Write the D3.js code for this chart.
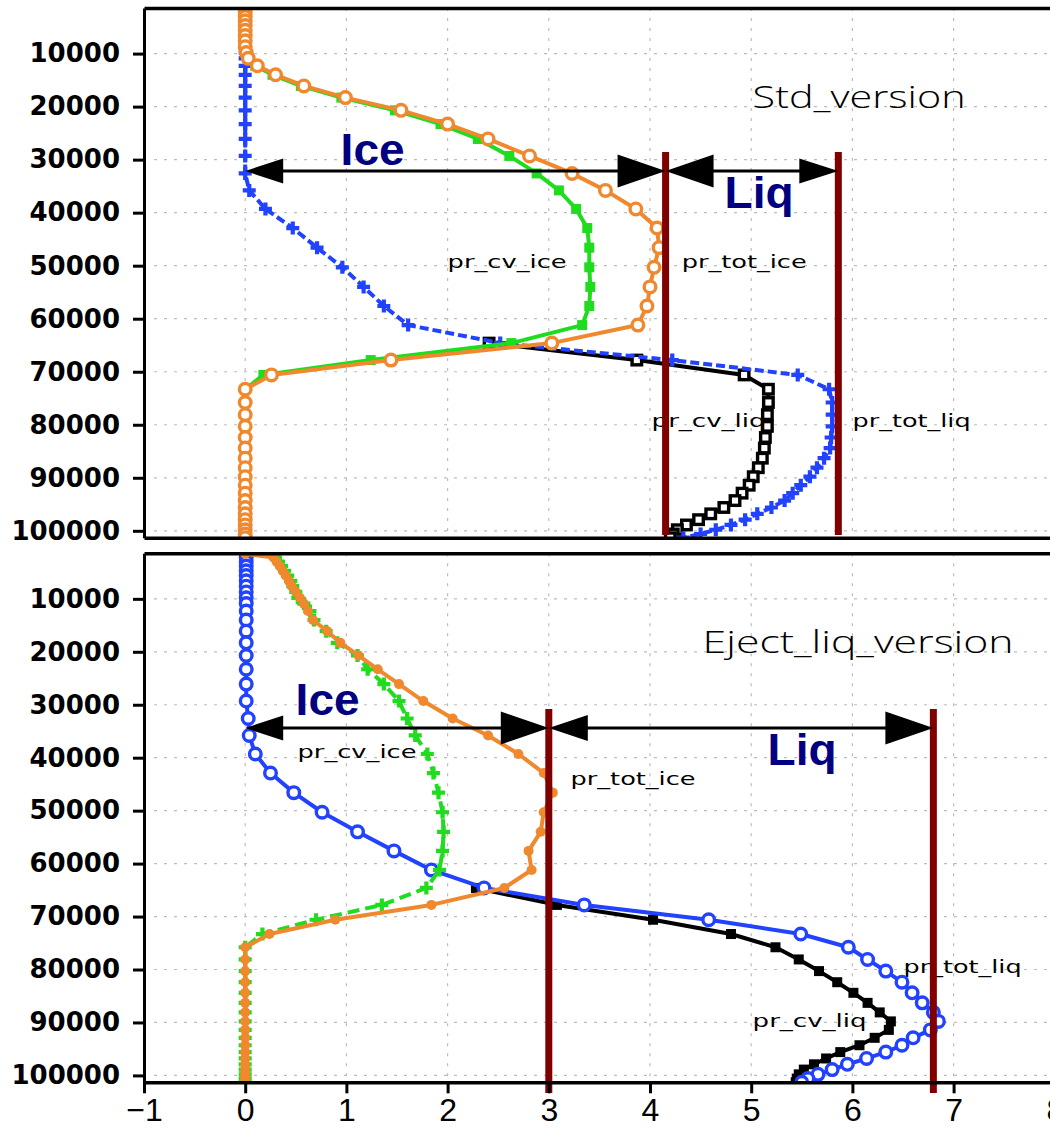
<!DOCTYPE html>
<html><head><meta charset="utf-8">
<script src="https://cdn.jsdelivr.net/npm/d3@7"></script>
<style>body{margin:0;background:#fff}svg{display:block}</style>
</head><body>
<svg id="chart" width="1050" height="1128"></svg>
<script>
// ---------- DATA ----------
const X_TICKS = [-1, 0, 1, 2, 3, 4, 5, 6, 7, 8];
const X_GRID = [0, 1, 2, 3, 4, 5, 6, 7];
const P_TICKS = [10000, 20000, 30000, 40000, 50000, 60000, 70000, 80000, 90000, 100000];
const P_DOMAIN = [1400, 101300];

// model pressure levels (Pa)
const levels = [1500, 2200, 3000, 3800, 4700, 5600, 6600, 7600, 8700, 9800,
  10900, 12300, 14000, 16100, 18300, 20700, 23300, 26100, 29300, 32600,
  35800, 39300, 42900, 46600, 50300, 54000, 57600, 61200, 64600, 67800,
  70600, 73300, 75800, 78100, 80300, 82400, 84400, 86300, 88100, 89800,
  91400, 92900, 94300, 95600, 96800, 97900, 98900, 99800, 100600, 101300];

// Std_version
const stdTotIce = [0, 0, 0, 0, 0, 0, 0, 0, 0, 0.01,
  0.03, 0.12, 0.30, 0.58, 0.99, 1.54, 2.00, 2.40, 2.81, 3.23,
  3.56, 3.86, 4.07, 4.09, 4.04, 4.00, 3.97, 3.88, 3.03, 1.44,
  0.26, 0, 0, 0, 0, 0, 0, 0, 0, 0,
  0, 0, 0, 0, 0, 0, 0, 0, 0, 0];
const stdCvIce = [0, 0, 0, 0, 0, 0, 0, 0, 0, 0,
  0.02, 0.10, 0.27, 0.55, 0.95, 1.48, 1.93, 2.30, 2.61, 2.88,
  3.10, 3.27, 3.38, 3.40, 3.40, 3.41, 3.40, 3.33, 2.63, 1.24,
  0.18, 0, 0, 0, 0, 0, 0, 0, 0, 0,
  0, 0, 0, 0, 0, 0, 0, 0, 0, 0];
const stdTotLiq = [0, 0, 0, 0, 0, 0, 0, 0, 0, 0,
  0, 0, 0, 0, 0, 0, 0, 0, 0, 0,
  0.04, 0.20, 0.47, 0.71, 0.96, 1.17, 1.37, 1.61, 2.52, 4.22,
  5.46, 5.77, 5.80, 5.80, 5.80, 5.79, 5.78, 5.72, 5.65, 5.58,
  5.49, 5.41, 5.33, 5.20, 5.06, 4.94, 4.80, 4.65, 4.50, 4.33];
const stdCvLiq = [null, null, null, null, null, null, null, null, null, null,
  null, null, null, null, null, null, null, null, null, null,
  null, null, null, null, null, null, null, null, 2.41, 3.87,
  4.93, 5.17, 5.17, 5.16, 5.16, 5.14, 5.13, 5.11, 5.07, 5.02,
  4.98, 4.91, 4.84, 4.73, 4.60, 4.48, 4.36, 4.27, 4.23, 4.20];

// Eject_liq_version
const ejTotIce = [0, 0.28, 0.31, 0.34, 0.37, 0.40, 0.43, 0.46, 0.50, 0.54,
  0.58, 0.62, 0.67, 0.81, 0.94, 1.12, 1.31, 1.52, 1.76, 2.05,
  2.40, 2.70, 2.95, 3.04, 2.95, 2.92, 2.80, 2.83, 2.56, 1.84,
  0.89, 0.24, 0, 0, 0, 0, 0, 0, 0, 0,
  0, 0, 0, 0, 0, 0, 0, 0, 0, 0];
const ejCvIce = [0.28, 0.30, 0.33, 0.36, 0.39, 0.42, 0.45, 0.47, 0.50, 0.52,
  0.58, 0.64, 0.68, 0.80, 0.91, 1.11, 1.21, 1.37, 1.52, 1.60,
  1.68, 1.80, 1.86, 1.91, 1.95, 1.96, 1.95, 1.92, 1.79, 1.35,
  0.70, 0.17, 0, 0, 0, 0, 0, 0, 0, 0,
  0, 0, 0, 0, 0, 0, 0, 0, 0, 0];
const ejTotLiq = [0.01, 0.01, 0.01, 0.01, 0.01, 0.01, 0.01, 0.01, 0.01, 0.01,
  0.01, 0.01, 0.01, 0.01, 0.01, 0.01, 0.01, 0.01, 0.01, 0.03,
  0.04, 0.10, 0.25, 0.48, 0.76, 1.11, 1.47, 1.84, 2.36, 3.35,
  4.58, 5.49, 5.96, 6.15, 6.33, 6.49, 6.59, 6.69, 6.80, 6.85,
  6.77, 6.60, 6.49, 6.33, 6.14, 5.95, 5.80, 5.66, 5.56, 5.50];
const ejCvLiq = [null, null, null, null, null, null, null, null, null, null,
  null, null, null, null, null, null, null, null, null, null,
  null, null, null, null, null, null, null, null, 2.28, 3.08,
  4.03, 4.80, 5.24, 5.47, 5.67, 5.85, 6.01, 6.15, 6.27, 6.38,
  6.36, 6.22, 6.07, 5.88, 5.74, 5.62, 5.52, 5.47, 5.45, 5.44];

// annotations (value, pressure)
const stdBounds = [4.154, 5.861];
const stdBoundP = [28560, 100800];
const ejBounds = [3.0, 6.80];
const ejBoundP = [30800, 103320];
const stdArrowP = 32140;
const ejArrowP = 34390;

const stdTexts = ["Std_version", "pr_cv_ice", "pr_tot_ice", "pr_cv_liq", "pr_tot_liq"];
const stdTextV = [5.014, 2.0, 4.313, 4.016, 6.002];
const stdTextP = [20260, 50440, 50440, 80430, 80430];
const ejTexts = ["Eject_liq_version", "pr_cv_ice", "pr_tot_ice", "pr_tot_liq", "pr_cv_liq"];
const ejTextV = [4.520, 0.517, 3.215, 6.506, 5.014];
const ejTextP = [20230, 40060, 45160, 80660, 90860];

const phaseNames = ["Ice", "Liq"];
const stdPhaseV = [0.943, 4.737];
const stdPhaseP = [31010, 39120];
const ejPhaseV = [0.498, 5.162];
const ejPhaseP = [31940, 41380];

// ---------- STYLE ----------
const C = {orange: "#f0882e", green: "#1fdc1f", blue: "#2142ff", black: "#000", maroon: "#800000", navy: "#000080", grid: "#bdbdbd"};
const textWidth = {"Std_version": 213, "Eject_liq_version": 311, "pr_cv_ice": 119, "pr_tot_ice": 125,
  "pr_cv_liq": 114, "pr_tot_liq": 118, "Ice": 64, "Liq": 69};
const HEAD_S = [38, 25], HEAD_B = [48, 33];

const svg = d3.select("#chart");
const x = d3.scaleLinear().domain([X_TICKS[0], X_TICKS[X_TICKS.length - 1]]).range([144, 1054.8]);

const panels = [
  {id: "std", range: [8, 537.7], series: [
      {vals: stdCvLiq, color: C.black, mk: "osquare"},
      {vals: stdTotLiq, color: C.blue, mk: "plus", dash: "9,4"},
      {vals: stdCvIce, color: C.green, mk: "square"},
      {vals: stdTotIce, color: C.orange, mk: "ocircle"}],
    bounds: stdBounds, boundP: stdBoundP, arrowP: stdArrowP,
    heads: [[HEAD_S, HEAD_B], [HEAD_B, [39, 25]]],
    texts: stdTexts, textV: stdTextV, textP: stdTextP,
    phaseV: stdPhaseV, phaseP: stdPhaseP, xLabels: false},
  {id: "ej", range: [553.3, 1082.3], series: [
      {vals: ejCvLiq, color: C.black, mk: "square"},
      {vals: ejTotLiq, color: C.blue, mk: "ocircle"},
      {vals: ejCvIce, color: C.green, mk: "plus", dash: "12,6"},
      {vals: ejTotIce, color: C.orange, mk: "dot"}],
    bounds: ejBounds, boundP: ejBoundP, arrowP: ejArrowP,
    heads: [[HEAD_S, HEAD_B], [[39, 26], HEAD_B]],
    texts: ejTexts, textV: ejTextV, textP: ejTextP,
    phaseV: ejPhaseV, phaseP: ejPhaseP, xLabels: true}
];

const defs = svg.append("defs");

panels.forEach((P, pi) => {
  const y = d3.scaleLinear().domain(P_DOMAIN).range(P.range);
  const g = svg.append("g");
  const clipId = "clip" + pi;
  defs.append("clipPath").attr("id", clipId).append("rect")
    .attr("x", x.range()[0]).attr("y", P.range[0])
    .attr("width", x.range()[1] - x.range()[0]).attr("height", P.range[1] - P.range[0] + 1);

  // grid
  g.append("g").selectAll("line").data(X_GRID).join("line")
    .attr("x1", d => x(d)).attr("x2", d => x(d)).attr("y1", P.range[0]).attr("y2", P.range[1])
    .attr("stroke", C.grid).attr("stroke-width", 1.2).attr("stroke-dasharray", "3,7");
  g.append("g").selectAll("line").data(P_TICKS).join("line")
    .attr("x1", x.range()[0] + 10).attr("x2", x.range()[1]).attr("y1", d => y(d)).attr("y2", d => y(d))
    .attr("stroke", C.grid).attr("stroke-width", 1.2).attr("stroke-dasharray", "3,7");

  // small labels
  g.append("g").selectAll("text").data(P.texts).join("text")
    .attr("x", (d, i) => x(P.textV[i])).attr("y", (d, i) => y(P.textP[i]))
    .attr("font-family", (d, i) => i === 0 ? "Open Sans, DejaVu Sans, sans-serif" : "DejaVu Sans, sans-serif")
    .attr("font-weight", (d, i) => i === 0 ? 300 : 400)
    .attr("font-size", (d, i) => i === 0 ? 31 : 18)
    .attr("textLength", d => textWidth[d]).attr("lengthAdjust", "spacingAndGlyphs")
    .attr("fill", "#000").text(d => d);

  // series
  const sg = g.append("g").attr("clip-path", `url(#${clipId})`);
  P.series.forEach(s => {
    const pts = levels.map((p, i) => ({p: p, v: s.vals[i]}));
    const line = d3.line().defined(d => d.v != null).x(d => x(d.v)).y(d => y(d.p));
    sg.append("path").attr("d", line(pts)).attr("fill", "none")
      .attr("stroke", s.color).attr("stroke-width", 4).attr("stroke-linejoin", "round")
      .attr("stroke-dasharray", s.dash || null);
    const pd = pts.filter(d => d.v != null);
    const mg = sg.append("g");
    if (s.mk === "ocircle" || s.mk === "dot") {
      mg.selectAll("circle").data(pd).join("circle")
        .attr("cx", d => x(d.v)).attr("cy", d => y(d.p)).attr("r", s.mk === "dot" ? 5 : 5.8)
        .attr("fill", s.mk === "dot" ? s.color : "#fff")
        .attr("stroke", s.color).attr("stroke-width", s.mk === "dot" ? 0 : 3.4);
    } else if (s.mk === "square" || s.mk === "osquare") {
      const side = s.mk === "square" ? 10 : 9.5;
      mg.selectAll("rect").data(pd).join("rect")
        .attr("x", d => x(d.v) - side / 2).attr("y", d => y(d.p) - side / 2)
        .attr("width", side).attr("height", side)
        .attr("fill", s.mk === "square" ? s.color : "#fff")
        .attr("stroke", s.color).attr("stroke-width", s.mk === "square" ? 0 : 3.4);
    } else if (s.mk === "plus") {
      mg.selectAll("path").data(pd).join("path")
        .attr("d", d => {
          const cx = x(d.v), cy = y(d.p), h = 6.5;
          return `M${cx - h},${cy}H${cx + h}M${cx},${cy - h}V${cy + h}`;
        })
        .attr("stroke", s.color).attr("stroke-width", 4.2).attr("fill", "none");
    }
  });

  // maroon bounds
  g.append("g").selectAll("line").data(P.bounds).join("line")
    .attr("x1", d => x(d)).attr("x2", d => x(d))
    .attr("y1", y(P.boundP[0])).attr("y2", y(P.boundP[1]))
    .attr("stroke", C.maroon).attr("stroke-width", 7);

  // arrows (Ice: 0 -> bound0, Liq: bound0 -> bound1)
  const ay = y(P.arrowP);
  const spans = [[0, P.bounds[0]], [P.bounds[0], P.bounds[1]]];
  const ag = g.append("g");
  spans.forEach((sp, k) => {
    const x1 = x(sp[0]), x2 = x(sp[1]);
    const hL = P.heads[k][0], hR = P.heads[k][1];
    ag.append("line").attr("x1", x1 + hL[0] - 2).attr("x2", x2 - hR[0] + 2)
      .attr("y1", ay).attr("y2", ay).attr("stroke", "#000").attr("stroke-width", 3.2);
    ag.append("path").attr("d", `M${x1},${ay}L${x1 + hL[0]},${ay - hL[1] / 2}L${x1 + hL[0]},${ay + hL[1] / 2}Z`).attr("fill", "#000");
    ag.append("path").attr("d", `M${x2},${ay}L${x2 - hR[0]},${ay - hR[1] / 2}L${x2 - hR[0]},${ay + hR[1] / 2}Z`).attr("fill", "#000");
  });

  // phase labels
  g.append("g").selectAll("text").data(phaseNames).join("text")
    .attr("x", (d, i) => x(P.phaseV[i])).attr("y", (d, i) => y(P.phaseP[i]))
    .attr("font-family", "Liberation Sans, Arial, sans-serif").attr("font-weight", "bold")
    .attr("font-size", 44).attr("fill", C.navy)
    .attr("textLength", d => textWidth[d]).attr("lengthAdjust", "spacingAndGlyphs")
    .text(d => d);

  // axes
  const yAxis = d3.axisLeft(y).tickValues(P_TICKS).tickFormat(d3.format("d"))
    .tickSize(11).tickPadding(13).tickSizeOuter(0);
  const ya = g.append("g").attr("transform", `translate(${x.range()[0]},0)`).call(yAxis);
  ya.select(".domain").attr("stroke-width", 3);
  ya.selectAll(".tick line").attr("stroke-width", 3);
  ya.selectAll("text").attr("font-family", "DejaVu Sans").attr("font-weight", "bold")
    .attr("font-size", 26).attr("fill", "#000");

  const topAxis = d3.axisTop(x).tickValues([]).tickSizeOuter(0);
  g.append("g").attr("transform", `translate(0,${P.range[0]})`).call(topAxis)
    .select(".domain").attr("stroke-width", 3.5);

  const xAxis = d3.axisBottom(x).tickValues(P.xLabels ? X_TICKS : [])
    .tickSize(11).tickPadding(5).tickSizeOuter(0);
  const xa = g.append("g").attr("transform", `translate(0,${P.range[1]})`).call(xAxis);
  xa.select(".domain").attr("stroke-width", 3.5);
  xa.selectAll(".tick line").attr("stroke-width", 3);
  xa.selectAll("text").attr("font-family", "Liberation Sans, Arial, sans-serif")
    .attr("font-size", 32).attr("fill", "#000");
});
</script>
</body></html>
